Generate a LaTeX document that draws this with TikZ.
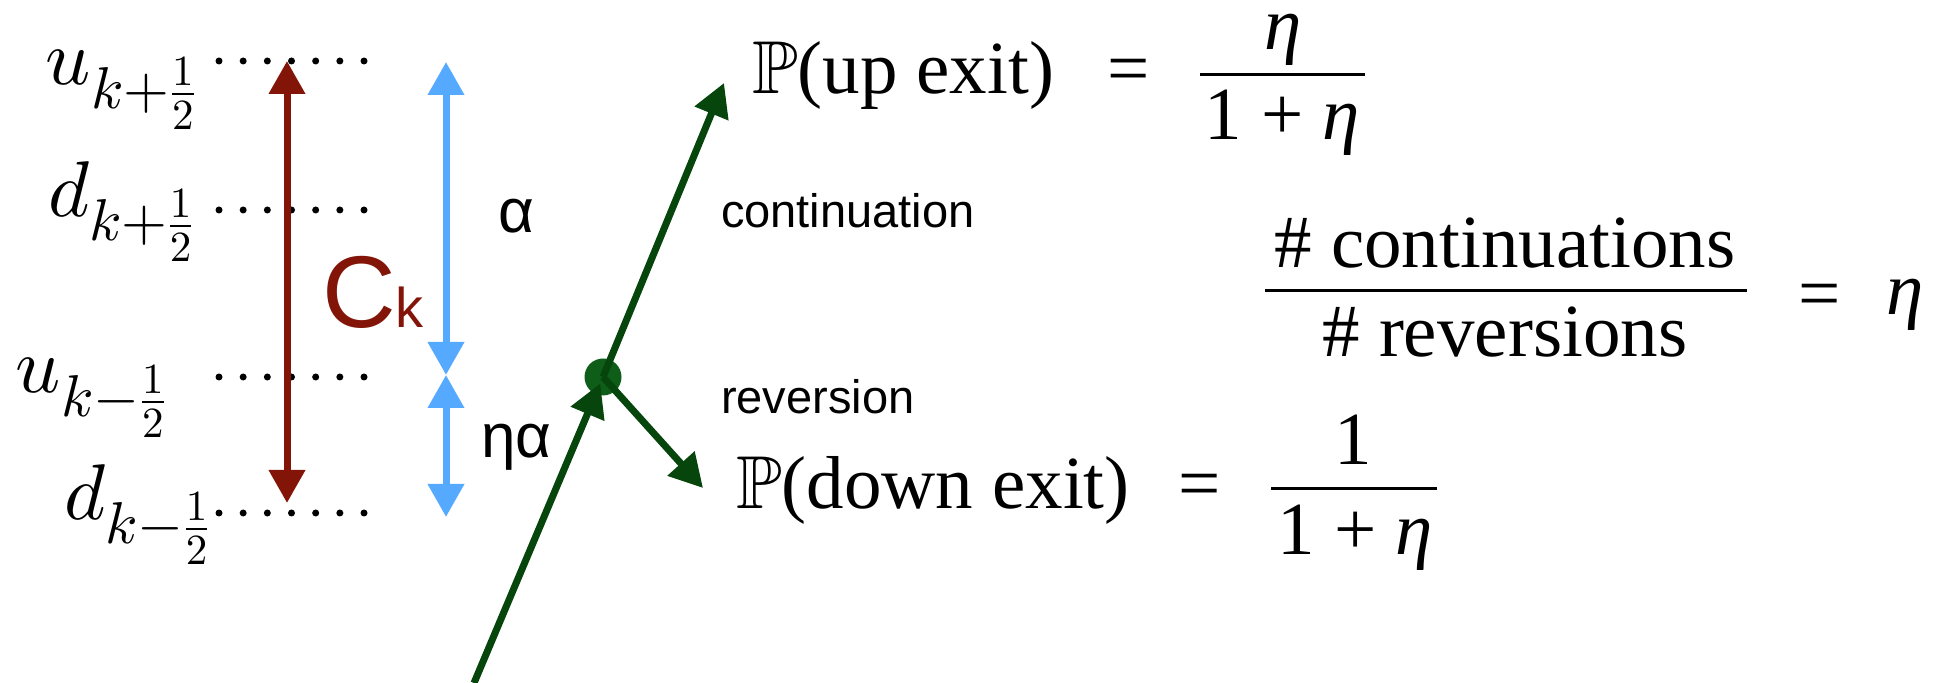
\documentclass[tikz,border=0pt]{standalone}
\usepackage{amssymb}
\usepackage{fontspec}
\setmainfont{Liberation Serif}
\newfontfamily\hv{Liberation Sans}
\DeclareFontShape{OT1}{cmr}{m}{n}{<-> cmr10}{}
\DeclareFontShape{OML}{cmm}{m}{it}{<-> cmmi10}{}
\DeclareFontShape{OMS}{cmsy}{m}{n}{<-> cmsy10}{}
\DeclareFontShape{OMX}{cmex}{m}{n}{<-> cmex10}{}
\DeclareFontFamily{U}{msb}{}
\DeclareFontShape{U}{msb}{m}{n}{<-6> msbm5 <6-8> msbm7 <8-> msbm10}{}
\DeclareMathSizes{39.5}{39.5}{29.5}{21.5}
\usetikzlibrary{arrows.meta}
\definecolor{cred}{RGB}{130,20,8}
\definecolor{cblue}{RGB}{85,170,255}
\definecolor{cgreen}{RGB}{6,70,12}
\definecolor{cdot}{RGB}{14,94,26}
\newcommand\myeta{\textit{η}}
\tikzset{
  >={Triangle[length=16.5pt,width=17.5pt]},
  txt/.style={inner sep=0pt, outer sep=0pt},
  lab/.style={txt, font=\fontsize{39.5}{44}\selectfont},
  ser/.style={txt, font=\fontsize{37.5}{42}\selectfont},
  hvs/.style={txt, font=\hv\fontsize{23.5}{28}\selectfont},
  greek/.style={txt, font=\hv\fontsize{31}{36}\selectfont},
  redarr/.style={draw=cred, line width=3.5pt, <->},
  bluearr/.style={draw=cblue, line width=3.5pt, <->},
  greenarr/.style={draw=cgreen, line width=3.5pt, ->},
  barline/.style={line width=1.5pt},
  dotrow/.style={fill=black},
}
\begin{document}
\begin{tikzpicture}[x=0.5pt,y=-0.5pt]
\useasboundingbox (0,0) rectangle (1943,683);
% level labels
\node[lab, anchor=base west] (u1) at (46,85) {$u_{k+\frac{1}{2}}$};
\node[lab, anchor=base west] (d1) at (48,217) {$d_{k+\frac{1}{2}}$};
\node[lab, anchor=base west] (u0) at (16,393) {$u_{k-\frac{1}{2}}$};
\node[lab, anchor=base west] (d0) at (64,520) {$d_{k-\frac{1}{2}}$};
% dotted levels
\foreach \yy in {61,210,377,513}
  \foreach \i in {0,...,6}
    \fill[dotrow] (219+24.17*\i,\yy) circle[radius=1.75pt];
% red arrow and label
\coordinate (rt) at (287,61);
\coordinate (rb) at (287,503);
\draw[redarr] (rt) -- (rb);
\node[txt, anchor=base west, text=cred] (ck) at (322,328)
  {\hv\fontsize{51}{56}\selectfont C\fontsize{28}{30}\selectfont k};
% blue arrows and labels
\coordinate (bt) at (446,62);
\coordinate (bm) at (446,375);
\coordinate (bb) at (446,517);
\draw[bluearr] (bt) -- (bm);
\draw[bluearr] (bm) -- (bb);
\node[greek, anchor=base west] (al) at (498,233) {α};
\node[greek, anchor=base west] (eal) at (481,458) {ηα};
% green path
\node[circle, fill=cdot, inner sep=0pt, minimum size=18.5pt] (dot) at (603,377) {};
\coordinate (gbot) at (474,683);
\coordinate (gtop) at (724,83);
\coordinate (grev) at (703,488);
\draw[greenarr, shorten >=3.5pt] (gbot) -- (dot.center);
\draw[greenarr] (dot.center) -- (gtop);
\draw[greenarr] (dot.center) -- (grev);
\node[hvs, anchor=base west] (cont) at (721,228) {continuation};
\node[hvs, anchor=base west] (rev) at (721,414) {reversion};
% up exit
\node[ser, anchor=base west] (pup) at (752,94) {$\mathbb{P}$(up exit)};
\node[ser, anchor=base] (eq1) at (1129,94) {=};
\draw[barline] (1200,75) -- (1365,75);
\node[ser, anchor=base] (n1) at (1283,50) {\myeta};
\node[ser, anchor=base] (dn1) at (1282,140) {1 + \myeta};
% down exit
\node[ser, anchor=base west] (pdown) at (736,509) {$\mathbb{P}$(down exit)};
\node[ser, anchor=base] (eq2) at (1200,509) {=};
\draw[barline] (1271,489) -- (1437,489);
\node[ser, anchor=base] (n2) at (1353,465) {1};
\node[ser, anchor=base] (dn2) at (1355,555) {1 + \myeta};
% ratio
\node[ser, anchor=base] (n3) at (1505,268) {\# continuations};
\draw[barline] (1265,291) -- (1747,291);
\node[ser, anchor=base] (dn3) at (1505,357) {\# reversions};
\node[ser, anchor=base] (eq3) at (1820,319) {=};
\node[ser, anchor=base west] (eta3) at (1886,315) {\myeta};
\end{tikzpicture}
\end{document}
